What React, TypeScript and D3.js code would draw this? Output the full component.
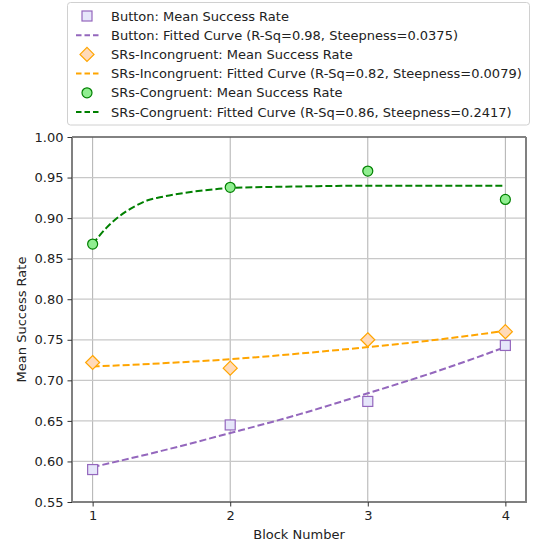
import React, { useEffect, useRef } from "react";
import * as d3 from "d3";

const W = 534, H = 544;
const margin = { left: 72, right: 8, top: 137, bottom: 42 };

const blocks = [1, 2, 3, 4];
const buttonMean = [0.590, 0.645, 0.674, 0.743];
const incongruentMean = [0.722, 0.715, 0.750, 0.760];
const congruentMean = [0.868, 0.938, 0.958, 0.923];

// fitted curves
const fitX = [1, 1.5, 2, 2.5, 3, 3.5, 4];
const buttonFit = [0.593, 0.613, 0.635, 0.658, 0.684, 0.711, 0.741];
const incongruentFit = [0.717, 0.721, 0.726, 0.733, 0.741, 0.750, 0.761];
const congruentFitX = [1, 1.1, 1.2, 1.3, 1.4, 1.5, 1.75, 2, 2.5, 3, 3.5, 4];
const congruentFit = [0.868, 0.888, 0.903, 0.914, 0.922, 0.926, 0.933, 0.937, 0.939, 0.940, 0.940, 0.940];

const yTicks = [0.55, 0.60, 0.65, 0.70, 0.75, 0.80, 0.85, 0.90, 0.95, 1.00];

const legendLabels = [
  "Button: Mean Success Rate",
  "Button: Fitted Curve (R-Sq=0.98, Steepness=0.0375)",
  "SRs-Incongruent: Mean Success Rate",
  "SRs-Incongruent: Fitted Curve (R-Sq=0.82, Steepness=0.0079)",
  "SRs-Congruent: Mean Success Rate",
  "SRs-Congruent: Fitted Curve (R-Sq=0.86, Steepness=0.2417)",
];

const series = [
  { mean: buttonMean, fx: fitX, fit: buttonFit, line: "#9467bd", fill: "#e6e6fa", edge: "#9467bd", shape: "square" },
  { mean: incongruentMean, fx: fitX, fit: incongruentFit, line: "#ffa500", fill: "#ffdab9", edge: "#ffa500", shape: "diamond" },
  { mean: congruentMean, fx: congruentFitX, fit: congruentFit, line: "#008000", fill: "#90ee90", edge: "#008000", shape: "circle" },
];

const font = "DejaVu Sans, sans-serif";

function drawMarker(g: any, shape: string, x: number, y: number, fill: string, edge: string) {
  if (shape === "square") {
    g.append("rect").attr("x", x - 5).attr("y", y - 5).attr("width", 10).attr("height", 10)
      .attr("fill", fill).attr("stroke", edge).attr("stroke-width", 1.2);
  } else if (shape === "diamond") {
    g.append("path").attr("d", `M${x},${y - 7}L${x + 7},${y}L${x},${y + 7}L${x - 7},${y}Z`)
      .attr("fill", fill).attr("stroke", edge).attr("stroke-width", 1.2);
  } else {
    g.append("circle").attr("cx", x).attr("cy", y).attr("r", 5)
      .attr("fill", fill).attr("stroke", edge).attr("stroke-width", 1.2);
  }
}

export default function App() {
  const ref = useRef<SVGSVGElement>(null);

  useEffect(() => {
    const svg = d3.select(ref.current);
    svg.selectAll("*").remove();

    const x = d3.scaleLinear().domain([0.85, 4.15]).range([margin.left, W - margin.right]);
    const y = d3.scaleLinear().domain([0.55, 1.0]).range([H - margin.bottom, margin.top]);

    // grid
    svg.append("g").selectAll("line").data(blocks).join("line")
      .attr("x1", d => x(d)).attr("x2", d => x(d))
      .attr("y1", y(1.0)).attr("y2", y(0.55))
      .attr("stroke", "#b0b0b0").attr("stroke-width", 1);
    svg.append("g").selectAll("line").data(yTicks).join("line")
      .attr("x1", x(0.85)).attr("x2", x(4.15))
      .attr("y1", d => y(d)).attr("y2", d => y(d))
      .attr("stroke", "#c8c8c8").attr("stroke-width", 1.2);

    // fitted curves
    const line = d3.line<number>().curve(d3.curveMonotoneX);
    series.forEach(s => {
      svg.append("path")
        .attr("d", line.x((_, i) => x(s.fx[i])).y(d => y(d))(s.fit))
        .attr("fill", "none").attr("stroke", s.line).attr("stroke-width", 2)
        .attr("stroke-dasharray", "7,3");
    });

    // markers
    const mg = svg.append("g");
    series.forEach(s => {
      s.mean.forEach((v, i) => drawMarker(mg, s.shape, x(blocks[i]), y(v), s.fill, s.edge));
    });

    // spines
    svg.append("line").attr("x1", x(0.85)).attr("x2", x(4.15)).attr("y1", y(1)).attr("y2", y(1))
      .attr("stroke", "#222").attr("stroke-width", 1.2);
    svg.append("line").attr("x1", x(0.85)).attr("x2", x(0.85)).attr("y1", y(1)).attr("y2", y(0.55))
      .attr("stroke", "#808080").attr("stroke-width", 2);
    svg.append("line").attr("x1", x(4.15)).attr("x2", x(4.15)).attr("y1", y(1)).attr("y2", y(0.55))
      .attr("stroke", "#808080").attr("stroke-width", 2);
    svg.append("line").attr("x1", x(0.85) - 1).attr("x2", x(4.15) + 1).attr("y1", y(0.55)).attr("y2", y(0.55))
      .attr("stroke", "#808080").attr("stroke-width", 2);

    // axes
    const xAxis = svg.append("g").attr("transform", `translate(0,${y(0.55)})`)
      .call(d3.axisBottom(x).tickValues(blocks).tickFormat(d3.format("d")).tickSize(4.5).tickPadding(4));
    const yAxis = svg.append("g").attr("transform", `translate(${x(0.85)},0)`)
      .call(d3.axisLeft(y).tickValues(yTicks).tickFormat(d3.format(".2f")).tickSize(4.5).tickPadding(4));
    [xAxis, yAxis].forEach(a => {
      a.select(".domain").remove();
      a.selectAll("line").attr("stroke", "#333").attr("stroke-width", 1);
      a.selectAll("text").attr("font-family", font).attr("font-size", 13).attr("fill", "#222");
    });

    svg.append("text").attr("x", (x(0.85) + x(4.15)) / 2).attr("y", 539)
      .attr("text-anchor", "middle").attr("font-family", font).attr("font-size", 13).attr("fill", "#222")
      .text("Block Number");
    svg.append("text").attr("transform", `translate(26,${(y(1) + y(0.55)) / 2}) rotate(-90)`)
      .attr("text-anchor", "middle").attr("font-family", font).attr("font-size", 13).attr("fill", "#222")
      .text("Mean Success Rate");

    // legend
    const lg = svg.append("g");
    lg.append("rect").attr("x", 67.5).attr("y", 2.5).attr("width", 462).attr("height", 122.5).attr("rx", 3)
      .attr("fill", "white").attr("fill-opacity", 0.85).attr("stroke", "#d0d0d0").attr("stroke-width", 1);
    legendLabels.forEach((lab, i) => {
      const cy = 16 + i * 19.2;
      const s = series[Math.floor(i / 2)];
      if (i % 2 === 0) {
        drawMarker(lg, s.shape, 87, cy, s.fill, s.edge);
      } else {
        lg.append("line").attr("x1", 76).attr("x2", 99).attr("y1", cy).attr("y2", cy)
          .attr("stroke", s.line).attr("stroke-width", 2).attr("stroke-dasharray", "5.5,3");
      }
      lg.append("text").attr("x", 111).attr("y", cy).attr("dy", "0.35em")
        .attr("font-family", font).attr("font-size", 13).attr("fill", "#222").text(lab);
    });
  }, []);

  return <svg ref={ref} width={W} height={H} style={{ position: "absolute", left: 0, top: 0, background: "white" }} />;
}
